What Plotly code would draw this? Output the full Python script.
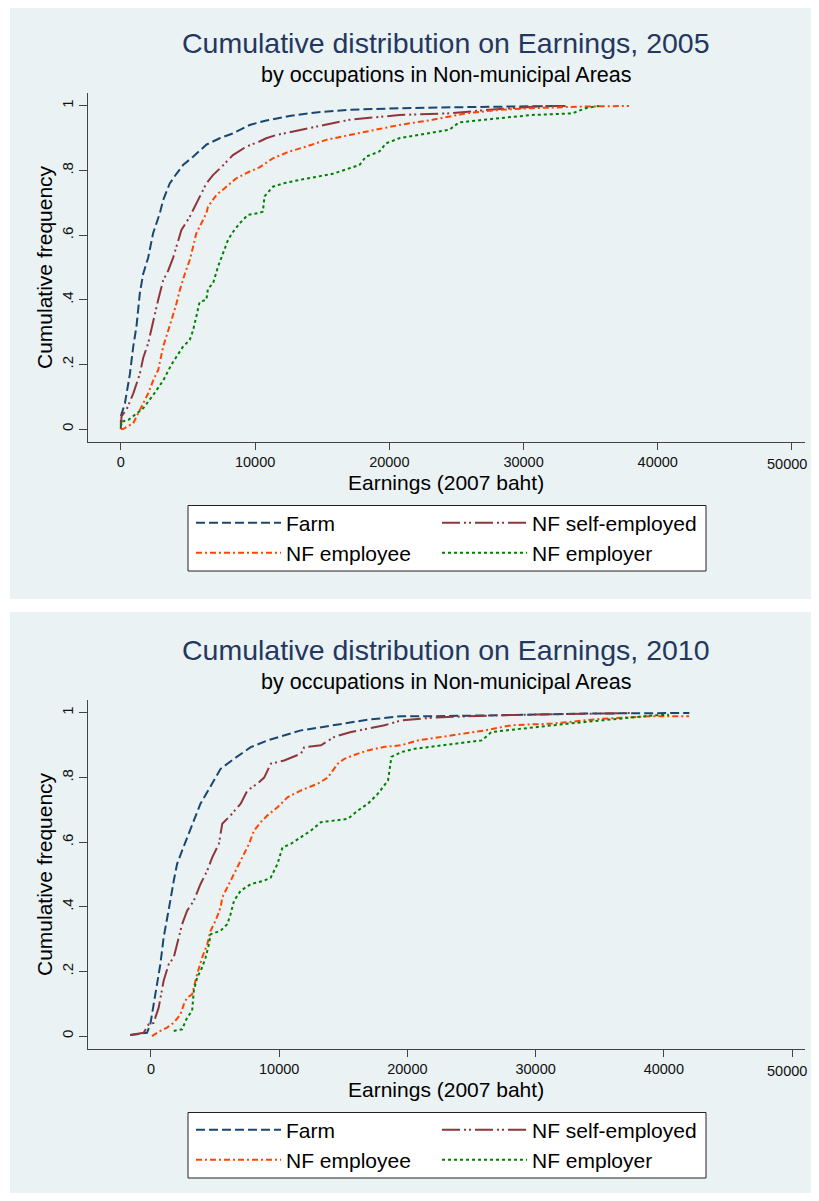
import plotly.graph_objects as go

PAGE_W, PAGE_H = 819, 1201
BODY_MARGIN = 8  # default html body margin; figure sits inside it without overflowing
W, H = PAGE_W - 2 * BODY_MARGIN, PAGE_H - 2 * BODY_MARGIN

series_names = ["Farm", "NF self-employed", "NF employee", "NF employer"]
panel_titles = ["Cumulative distribution on Earnings, 2005",
                "Cumulative distribution on Earnings, 2010"]
subtitle = "by occupations in Non-municipal Areas"
x_title = "Earnings (2007 baht)"
y_title = "Cumulative frequency"
x_tickvals = [0, 10000, 20000, 30000, 40000, 50000]
x_ticktext = ["0", "10000", "20000", "30000", "40000", "50000"]
y_tickvals = [0, 0.2, 0.4, 0.6, 0.8, 1]
y_ticktext = ["0", ".2", ".4", ".6", ".8", "1"]

# ---- 2005 ----
farm05_x = [0, 0, 300, 670, 920, 1160, 1410, 1660, 2030, 2400, 2650, 2900, 3150, 3640, 4140,
            4630, 5380, 6370, 7360, 8350, 9590, 10830, 12560, 14550, 17030, 20740, 25000, 31400, 33000]
farm05_y = [0, .04, .08, .17, .255, .317, .42, .48, .53, .606, .637, .668, .709, .76, .79,
            .817, .843, .88, .90, .915, .941, .955, .969, .98, .988, .993, .996, .998, 1.0]
nfse05_x = [0, 50, 420, 920, 1410, 1660, 2030, 2400, 2780, 3150, 3520, 3890, 4260, 4510, 5130,
            5620, 6370, 6860, 7470, 8350, 9340, 10330, 10830, 11570, 13310, 14550, 17030, 18260,
            20740, 24460, 27430, 31150, 33130]
nfse05_y = [0, .04, .06, .11, .17, .22, .265, .337, .40, .46, .49, .53, .585, .616, .657,
            .699, .76, .786, .81, .848, .874, .89, .90, .91, .926, .936, .957, .962,
            .972, .977, .988, .999, 1.0]
nfee05_x = [0, 170, 920, 1410, 2030, 2400, 2780, 3150, 3400, 3770, 4140, 4390, 4760, 5130, 5380,
            5620, 6000, 6370, 6490, 7110, 7860, 8600, 9590, 10330, 11330, 12560, 13800, 15290,
            17030, 19500, 20740, 23220, 25700, 28180, 30660, 34380, 37850]
nfee05_y = [0, 0, .018, .06, .11, .15, .183, .255, .286, .337, .389, .43, .48, .523, .564,
            .606, .637, .668, .688, .724, .75, .776, .797, .81, .838, .859, .874, .895,
            .91, .93, .941, .957, .977, .988, .993, .998, 1.0]
nfer05_x = [0, 50, 545, 1160, 1660, 2400, 3150, 3770, 4140, 4630, 5130, 5380, 5620, 5870, 6370,
            6490, 6860, 7240, 7610, 7980, 8350, 8850, 9470, 10210, 10580, 10700, 11330, 12070,
            13310, 14550, 15790, 17030, 17770, 18260, 19260, 19750, 20740, 24460, 25200, 28180,
            30660, 33630, 34630, 35620]
nfer05_y = [.007, .023, .028, .048, .064, .105, .15, .2, .224, .255, .276, .306, .348, .394, .40,
            .435, .45, .503, .544, .585, .61, .637, .663, .668, .673, .72, .75, .76,
            .771, .781, .79, .807, .817, .843, .859, .884, .90, .926, .949, .962,
            .972, .977, .993, 1.0]

# ---- 2010 ----
farm10_x = [-1620, -835, -310, -50, 210, 470, 730, 990, 1250, 1510, 1775, 2040, 2430, 2820, 3340,
            3860, 4390, 4910, 5430, 6480, 7780, 9090, 10390, 11700, 13000, 14310, 15610, 16920,
            19530, 22140, 27360, 33880, 41990]
farm10_y = [.003, .008, .01, .036, .098, .16, .222, .305, .357, .419, .48, .533, .574, .615, .667,
            .719, .755, .791, .827, .858, .894, .915, .931, .946, .954, .962, .972, .979,
            .99, .99, .993, .998, 1.0]
nfse10_x = [-1620, -575, -180, 210, 600, 990, 1380, 1775, 2170, 2430, 2820, 3340, 3860, 4390, 4780,
            5300, 5560, 6210, 7000, 7520, 8300, 8830, 9350, 10390, 11700, 11960, 13260, 14310,
            15610, 16920, 18220, 19530, 22140, 27360, 33880, 37500]
nfse10_y = [.003, .01, .036, .041, .088, .171, .222, .243, .305, .346, .388, .419, .47, .512, .553,
            .595, .657, .683, .719, .76, .781, .80, .843, .853, .874, .894, .90, .926,
            .941, .951, .962, .977, .986, .993, .998, 1.0]
nfee10_x = [80, 730, 1250, 1775, 2300, 2560, 2820, 3210, 3600, 3990, 4390, 4650, 5040, 5430, 5560,
            5950, 6480, 7000, 7650, 8040, 8560, 9090, 9870, 10650, 11700, 13000, 13790, 14570,
            15090, 16140, 16920, 18220, 19530, 20840, 23440, 26050, 28140, 31270, 35190, 39100, 41970]
nfee10_y = [0, .016, .026, .041, .067, .098, .119, .129, .191, .243, .284, .326, .357, .398, .429,
            .46, .502, .543, .595, .636, .662, .683, .708, .739, .76, .781, .80, .843,
            .858, .874, .884, .895, .90, .915, .931, .946, .962, .967, .982, .99, .99]
nfer10_x = [1775, 2430, 2820, 3210, 3340, 3600, 3990, 4260, 4520, 4650, 5430, 5950, 6210, 6480, 7000,
            7780, 8830, 9350, 9870, 10260, 10910, 11700, 12480, 13260, 14310, 15350, 16140, 16920,
            17700, 18490, 18750, 19530, 20570, 25790, 26570, 29960, 32570, 35190, 37800, 39360, 40400]
nfer10_y = [.016, .021, .057, .078, .14, .181, .212, .243, .284, .315, .326, .346, .377, .419, .45,
            .47, .481, .491, .533, .584, .595, .615, .636, .662, .667, .672, .698, .719,
            .75, .791, .864, .879, .889, .915, .941, .957, .967, .977, .988, .993, .994]

panels = [
    [(farm05_x, farm05_y), (nfse05_x, nfse05_y), (nfee05_x, nfee05_y), (nfer05_x, nfer05_y)],
    [(farm10_x, farm10_y), (nfse10_x, nfse10_y), (nfee10_x, nfee10_y), (nfer10_x, nfer10_y)],
]
x_ranges = [[-2450, 50970], [-4910, 51010]]

colors = ["#1A476F", "#90353B", "#FF4500", "#008000"]
dashes = ["9px,4px", "18px,4px,2px,3px,2px,4px", "6px,3px,2px,3px", "3px,3px"]

BG = "#EAF2F3"
FONT = "Liberation Sans, Arial, sans-serif"
TICK_SIZE = 14.5


def px_x(p):
    """page pixel (from left) -> paper x"""
    return (p - BODY_MARGIN) / W


def px_y(p):
    """page pixel (from top) -> paper y"""
    return 1 - (p - BODY_MARGIN) / H


fig = go.Figure()
shapes = []
annotations = []
layout_extra = {}

# the last x tick label sits at the page edge; it is written right-aligned so it
# stays inside the page instead of being dropped by the axis
axis_ticktext = x_ticktext[:-1] + [""]

OFF = 607  # vertical offset of second panel (px)
for k in range(2):
    o = OFF * k
    xa = "x" if k == 0 else "x2"
    ya = "y" if k == 0 else "y2"
    leg_a = "legend" if k == 0 else "legend3"
    leg_b = "legend2" if k == 0 else "legend4"
    for i, (xs, ys) in enumerate(panels[k]):
        fig.add_trace(go.Scatter(
            x=xs, y=ys, mode="lines", name=series_names[i],
            line=dict(color=colors[i], width=2, dash=dashes[i]),
            xaxis=xa, yaxis=ya,
            legend=leg_a if i < 2 else leg_b,
            legendwidth=146 if i % 2 == 0 else 175,
        ))
    # panel background
    shapes.append(dict(type="rect", xref="paper", yref="paper",
                       x0=px_x(10), x1=px_x(812), y0=px_y(min(599 + o, PAGE_H)), y1=px_y(5 + o),
                       fillcolor=BG, line=dict(width=0), layer="below"))
    # legend box
    shapes.append(dict(type="rect", xref="paper", yref="paper",
                       x0=px_x(188), x1=px_x(706), y0=px_y(571 + o), y1=px_y(505.5 + o),
                       fillcolor="white", line=dict(color="#222222", width=1), layer="below"))
    annotations += [
        dict(text=panel_titles[k], x=px_x(446), y=px_y(43 + o), xref="paper", yref="paper",
             showarrow=False, xanchor="center", yanchor="middle",
             font=dict(family=FONT, size=28.5, color="#243760")),
        dict(text=subtitle, x=px_x(446), y=px_y(75 + o), xref="paper", yref="paper",
             showarrow=False, xanchor="center", yanchor="middle",
             font=dict(family=FONT, size=21.5, color="#000000")),
        dict(text=x_title, x=px_x(446), y=px_y(482 + o), xref="paper", yref="paper",
             showarrow=False, xanchor="center", yanchor="middle",
             font=dict(family=FONT, size=21, color="#000000")),
        dict(text=y_title, x=px_x(44), y=px_y(267 + o), xref="paper", yref="paper",
             showarrow=False, xanchor="center", yanchor="middle", textangle=-90,
             font=dict(family=FONT, size=21, color="#000000")),
        dict(text=x_ticktext[-1], x=px_x(PAGE_W - BODY_MARGIN - 2), y=px_y(464 + o),
             xref="paper", yref="paper", showarrow=False, xanchor="right", yanchor="middle",
             font=dict(family=FONT, size=TICK_SIZE, color="#111111")),
    ]
    xkey = "xaxis" if k == 0 else "xaxis2"
    ykey = "yaxis" if k == 0 else "yaxis2"
    layout_extra[xkey] = dict(
        domain=[px_x(88), px_x(805)], range=x_ranges[k], anchor=ya,
        tickvals=x_tickvals, ticktext=axis_ticktext, ticks="outside", ticklen=7,
        tickcolor="#444444", showline=True, linecolor="#444444", linewidth=1,
        showgrid=False, zeroline=False,
        tickfont=dict(family=FONT, size=TICK_SIZE, color="#111111"),
    )
    layout_extra[ykey] = dict(
        domain=[px_y(442 + o), px_y(93 + o)], range=[-0.04, 1.04], anchor=xa,
        tickvals=y_tickvals, ticktext=y_ticktext, ticks="outside", ticklen=8,
        tickcolor="#444444", showline=True, linecolor="#444444", linewidth=1,
        showgrid=True, gridcolor=BG, gridwidth=2, zeroline=False, tickangle=-90,
        tickfont=dict(family=FONT, size=15, color="#111111"),
    )
    for j, leg in enumerate([leg_a, leg_b]):
        layout_extra[leg] = dict(
            orientation="h", x=px_x(191), xanchor="left",
            y=px_y((523 if j == 0 else 553) + o), yanchor="middle",
            bgcolor="rgba(0,0,0,0)", borderwidth=0,
            font=dict(family=FONT, size=21, color="#000000"),
            itemwidth=85, entrywidthmode="pixels", entrywidth=146,
            traceorder="normal", tracegroupgap=0,
        )

fig.update_layout(
    width=W, height=H, margin=dict(l=0, r=0, t=0, b=0),
    paper_bgcolor="white", plot_bgcolor="white",
    shapes=shapes, annotations=annotations, showlegend=True,
    **layout_extra,
)

fig.write_html("out.html")
